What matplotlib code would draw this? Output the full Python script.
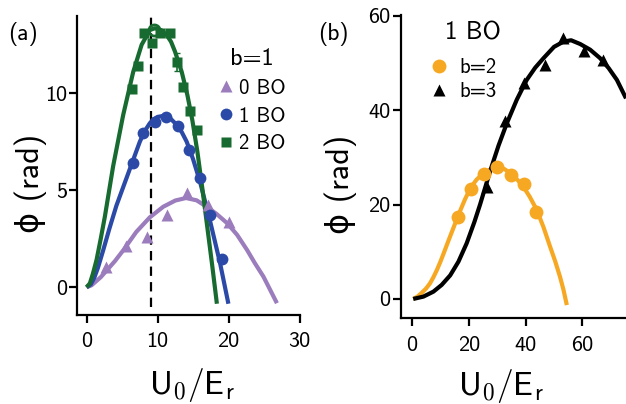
import matplotlib
matplotlib.use('Agg')
import matplotlib.pyplot as plt

plt.rcParams['font.family'] = ['cmss10', 'DejaVu Sans']
plt.rcParams['mathtext.fontset'] = 'cm'
plt.rcParams['axes.unicode_minus'] = False

# ---------------- panel (a) data: b=1 ----------------
bo0_x = [2.8, 5.6, 8.5, 11.3, 14.1, 17.1, 20.1]
bo0_y = [1.06, 2.15, 2.61, 3.73, 4.85, 4.22, 3.35]
bo1_x = [6.5, 7.9, 9.6, 11.2, 12.9, 14.4, 16.0, 17.4, 19.1]
bo1_y = [6.39, 7.94, 8.54, 8.80, 8.32, 7.08, 5.62, 3.70, 1.46]
bo2_x = [6.35, 7.3, 8.1, 9.2, 10.3, 11.8, 12.8, 13.6, 14.6, 15.6]
bo2_y = [10.2, 11.4, 13.1, 12.6, 13.1, 13.1, 11.6, 10.3, 9.1, 8.1]
bo2_err = [0, 0, 0, 0, 0, 0, 0.45, 0, 0, 0]
peak2_x = [9.5]
peak2_y = [13.25]

fit0_x = [0, 0.7, 2.0, 2.8, 4.0, 5.2, 7.0, 8.9, 10.8, 12.5, 14.0, 15.5, 16.9, 18.3, 19.8, 21.2, 22.6, 23.7, 24.9, 26.8]
fit0_y = [0, 0.1, 0.52, 0.85, 1.35, 1.92, 2.85, 3.6, 4.15, 4.47, 4.6, 4.48, 4.15, 3.78, 3.3, 2.7, 1.92, 1.24, 0.55, -0.82]
fit1_x = [0, 0.6, 1.1, 1.6, 2.3, 3.2, 4.2, 5.6, 6.5, 7.5, 8.2, 8.9, 9.4, 10.0, 10.8, 11.8, 12.7, 13.4, 14.1, 15.0, 16.0, 17.4, 18.8, 19.97]
fit1_y = [0, 0.15, 0.5, 1.0, 1.85, 3.0, 4.2, 5.6, 6.5, 7.5, 8.05, 8.45, 8.65, 8.78, 8.83, 8.7, 8.37, 8.0, 7.5, 6.6, 5.4, 3.4, 1.24, -0.85]
fit2_x = [0, 0.47, 0.9, 1.41, 2.0, 2.58, 3.75, 5.16, 6.57, 7.76, 8.93, 9.63, 10.5, 11.28, 11.9, 12.45, 13.4, 14.2, 14.9, 15.6, 16.3, 17.0, 17.7, 18.35]
fit2_y = [0, 0.2, 0.7, 1.41, 2.5, 3.64, 6.25, 8.88, 11.1, 12.5, 13.26, 13.35, 13.25, 13.0, 12.65, 12.15, 11.1, 9.9, 8.6, 7.0, 5.1, 3.1, 1.1, -0.85]
dash_x = 9.1

# ---------------- panel (b) data: 1 BO ----------------
b2_x = [16.4, 20.7, 25.5, 29.9, 34.8, 39.5, 43.7]
b2_y = [17.3, 23.2, 26.5, 27.9, 26.3, 24.4, 18.5]
b3_x = [26.6, 32.8, 39.5, 46.9, 53.3, 60.6, 67.3]
b3_y = [23.8, 37.6, 45.7, 49.6, 55.2, 52.6, 50.6]

fitb2_x = [0.5, 2.0, 3.5, 5.0, 6.4, 7.6, 8.8, 10.0, 11.1, 12.8, 14.6, 16.6, 18.7, 20.7, 22.8, 24.8, 26.9, 28.4, 29.9,
           32.3, 34.6, 36.9, 39.2, 41.5, 43.9, 46.3, 48.6, 50.4, 52.1, 53.3, 54.5]
fitb2_y = [0, 0.5, 1.3, 2.2, 3.3, 4.6, 6.1, 7.8, 9.5, 12.2, 15.0, 18.1, 21.1, 23.6, 25.3, 26.4, 27.2, 27.7, 27.9,
           27.6, 26.7, 25.4, 23.8, 21.6, 18.9, 15.2, 11.1, 8.0, 4.7, 2.0, -1.3]
fitb3_x = [0.5, 4.1, 7.6, 10.5, 13.5, 16.4, 19.3, 22.0, 24.0, 27.5, 30.5, 33.4, 36.9, 40.4, 43.4, 46.3, 50.0, 53.3,
           56.0, 59.2, 62.7, 66.2, 69.2, 72.1, 75.3]
fitb3_y = [0, 0.5, 1.55, 2.97, 5.0, 7.9, 11.8, 16.3, 20.0, 27.0, 32.5, 37.2, 42.2, 46.4, 49.0, 51.0, 53.4, 54.5,
           54.8, 54.0, 52.8, 51.0, 48.9, 46.4, 42.5]

C_PURPLE = '#9b7cbc'
C_BLUE = '#2b49a6'
C_GREEN = '#186b30'
C_ORANGE = '#f7a823'

W, H = 626, 404
fig = plt.figure(figsize=(W / 100, H / 100), dpi=100)

def style(ax):
    for s in ('top', 'right'):
        ax.spines[s].set_visible(False)
    for s in ('left', 'bottom'):
        ax.spines[s].set_linewidth(1.6)
    ax.tick_params(axis='both', direction='out', length=5.5, width=1.6, labelsize=16)
    ax.tick_params(axis='x', pad=7)
    ax.tick_params(axis='y', pad=2)

# ---- panel a ----
axa = fig.add_axes([77.3 / W, 1 - 315 / H, 222.7 / W, 299 / H])
style(axa)
kw = dict(lw=3.0, solid_capstyle='butt', solid_joinstyle='round')
axa.plot(fit0_x, fit0_y, color=C_PURPLE, **kw)
axa.plot(fit1_x, fit1_y, color=C_BLUE, **kw)
axa.plot(fit2_x, fit2_y, color=C_GREEN, **kw)
axa.vlines(dash_x, -1.0, 14.0, colors='black', lw=1.6, linestyles=(0, (4.2, 2.8)), clip_on=False)
h0, = axa.plot(bo0_x, bo0_y, '^', color=C_PURPLE, ms=9, mec='none', label='0 BO')
h1, = axa.plot(bo1_x, bo1_y, 'o', color=C_BLUE, ms=8.5, mec='none', label='1 BO')
axa.errorbar(bo2_x, bo2_y, yerr=bo2_err, fmt='none', ecolor=C_GREEN, elinewidth=1.2, capsize=2.5)
h2, = axa.plot(bo2_x, bo2_y, 's', color=C_GREEN, ms=7.5, mec='none', label='2 BO')
axa.plot(peak2_x, peak2_y, 'o', mfc='none', mec=C_GREEN, mew=2.0, ms=8)
axa.set_xlim(-1.3, 30.05)
axa.set_ylim(-1.43, 13.98)
axa.set_xticks([0, 10, 20, 30])
axa.set_yticks([0, 5, 10])
axa.set_ylabel('ϕ (rad)', fontsize=23)
axa.set_xlabel(r'$\mathsf{U_0/E_r}$', fontsize=24)
axa.yaxis.set_label_coords(-0.135, 0.44)
axa.xaxis.set_label_coords(0.517, -0.17)
axa.legend(handles=[h0, h1, h2], title='b=1', loc='upper left',
           bbox_to_anchor=(219 / W, 1 - 48 / H), bbox_transform=fig.transFigure,
           frameon=False, fontsize=15, title_fontsize=17.5, borderpad=0,
           borderaxespad=0, handlelength=0.7, handletextpad=0.25, labelspacing=0.42)

# ---- panel b ----
axb = fig.add_axes([400.7 / W, 1 - 318.3 / H, 225.3 / W, 303.3 / H])
style(axb)
axb.plot(fitb2_x, fitb2_y, color=C_ORANGE, **kw)
axb.plot(fitb3_x, fitb3_y, color='black', **kw)
g2, = axb.plot(b2_x, b2_y, 'o', color=C_ORANGE, ms=10, mec='none', label='b=2')
g3, = axb.plot(b3_x, b3_y, '^', color='black', ms=8, mec='none', label='b=3')
axb.set_xlim(-3.9, 75.3)
axb.set_ylim(-4.1, 60.15)
axb.set_xticks([0, 20, 40, 60])
axb.set_yticks([0, 20, 40, 60])
axb.set_ylabel('ϕ (rad)', fontsize=23)
axb.set_xlabel(r'$\mathsf{U_0/E_r}$', fontsize=24)
axb.yaxis.set_label_coords(-0.195, 0.443)
axb.xaxis.set_label_coords(0.444, -0.16)
axb.legend(handles=[g2, g3], loc='upper left',
           bbox_to_anchor=(430 / W, 1 - 58 / H), bbox_transform=fig.transFigure,
           frameon=False, fontsize=15, borderpad=0, borderaxespad=0,
           handlelength=0.9, handletextpad=0.5, labelspacing=0.25)

fig.text(473 / W, 1 - 33 / H, '1 BO', fontsize=18, ha='center', va='center')
fig.text(8 / W, 1 - 22 / H, '(a)', fontsize=17, ha='left', va='top')
fig.text(318 / W, 1 - 22 / H, '(b)', fontsize=17, ha='left', va='top')

fig.savefig('out.png', dpi=100)
